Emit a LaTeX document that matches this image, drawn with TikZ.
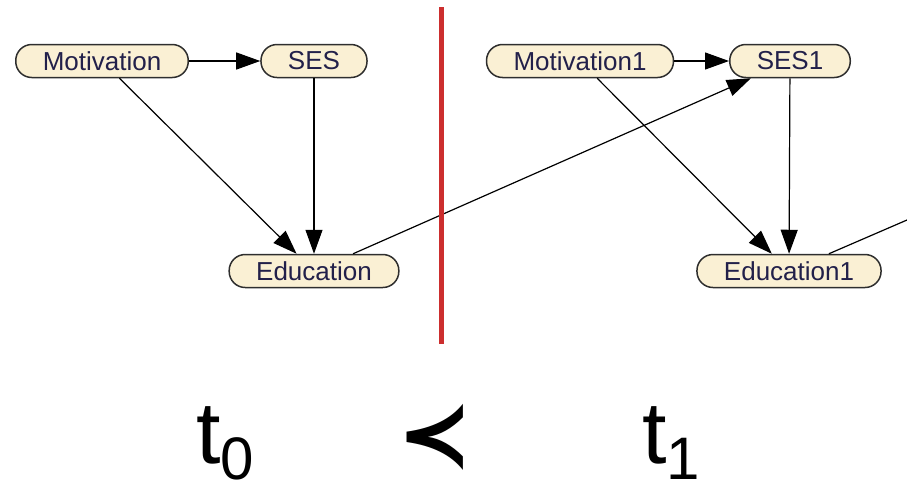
\documentclass[tikz,border=0pt]{standalone}
\usepackage{fontspec}
\setmainfont{Liberation Sans}
\newfontfamily\symfont{DejaVu Sans}
\usepackage{xcolor}
\definecolor{nodeBack}  {HTML}{FAF0D4}
\definecolor{nodeLine}  {HTML}{2E2E2E}
\definecolor{nodeText}  {HTML}{22204A}
\definecolor{sliceRed}  {HTML}{CC2E2E}
\usetikzlibrary{arrows.meta, positioning, calc}
\tikzset{
    bnvar/.style={draw=nodeLine, line width=1.5pt, fill=nodeBack, rectangle,
                  rounded corners=16pt, minimum height=33pt, inner xsep=27pt,
                  inner ysep=0pt, text=nodeText,
                  font=\fontsize{26}{26}\selectfont},
    bnedge/.style={-{Triangle[length=24pt,width=17pt]}, line width=1.2pt},
    bnstub/.style={-, line width=1.2pt},
    slice/.style={line width=5pt, sliceRed},
    tlabel/.style={anchor=base west, inner sep=0pt,
                   font=\fontsize{88}{88}\selectfont},
}

\begin{document}
\begin{tikzpicture}[x=1pt, y=-1pt]
\useasboundingbox (0,0) rectangle (907,491);

% --- LEFT: slice t0 ---
\node[bnvar] (mot0) at (102,61) {Motivation};
\node[bnvar] (ses0) at (314,61) {SES};
\node[bnvar] (edu0) at (314,271) {Education};
\draw[bnedge] (mot0) -- (ses0);
\draw[bnedge] (mot0) -- (edu0);
\draw[bnedge] (ses0) -- (edu0);

% --- RIGHT: slice t1 ---
\node[bnvar] (mot1) at (580,61) {Motivation1};
\node[bnvar] (ses1) at (790,61) {SES1};
\node[bnvar] (edu1) at (789,271) {Education1};
\draw[bnedge] (mot1) -- (ses1);
\draw[bnedge] (mot1) -- (edu1);
\draw[bnedge] (ses1) -- (edu1);

% temporal links
\draw[bnedge] (edu0) -- (ses1);
\coordinate (ses2) at (907,220);
\draw[bnstub] (edu1) -- (ses2);

% separator
\draw[slice] (441,7) -- (441,344);

% --- time labels ---
\node[tlabel] (t0) at (196,463)
    {t\raisebox{-16pt}{\fontsize{60}{60}\selectfont 0}};
\node[font=\fontsize{90}{90}\selectfont\bfseries] (prec) at (435,437)
    {\symfont\bfseries ≺};
\node[tlabel] (t1) at (642,463)
    {t\raisebox{-16pt}{\fontsize{60}{60}\selectfont 1}};
\end{tikzpicture}
\end{document}
